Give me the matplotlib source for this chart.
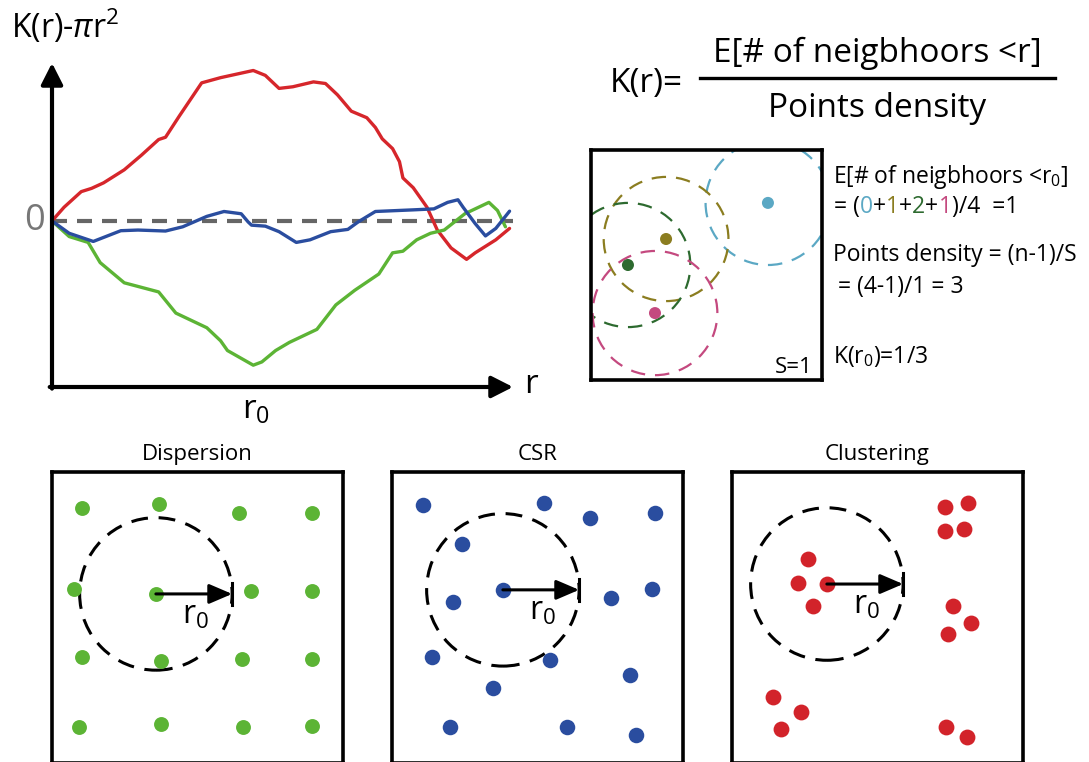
import matplotlib.pyplot as plt
from matplotlib.patches import Circle
from matplotlib.lines import Line2D

plt.rcParams['font.family'] = ['Open Sans', 'DejaVu Sans']
plt.rcParams['mathtext.fontset'] = 'custom'
plt.rcParams['mathtext.rm'] = 'Open Sans'
plt.rcParams['mathtext.it'] = 'Open Sans:italic'

W, H = 1089, 762

# K(r) - pi r^2 curves (arbitrary units)
r_red = [0, 0.35, 0.85, 1.15, 1.5, 2.1, 2.6, 3.1, 3.3, 3.7, 4.35, 4.9, 5.85, 6.2, 6.6, 7.0, 7.6, 7.95,
         8.3, 8.7, 9.15, 9.4, 9.6, 9.9, 10.1, 10.2, 10.5, 10.9, 11.2, 11.6, 12.05, 12.3, 12.6, 12.9, 13.3]
k_red = [0, 0.42, 0.9, 1.0, 1.17, 1.57, 2.02, 2.5, 2.57, 3.22, 4.24, 4.4, 4.62, 4.47, 4.07, 4.12, 4.27, 4.22,
         3.87, 3.37, 3.17, 2.87, 2.52, 2.22, 1.82, 1.32, 1.02, 0.42, -0.28, -0.83, -1.18, -0.98, -0.78, -0.58, -0.23]
r_green = [0, 0.5, 1.05, 1.4, 2.1, 3.1, 3.6, 4.5, 4.9, 5.1, 5.85, 6.1, 6.5, 6.9, 7.7, 8.25, 8.8, 9.5,
           9.9, 10.2, 10.6, 11.0, 11.4, 12.0, 12.7, 12.95, 13.18]
k_green = [0, -0.48, -0.66, -1.28, -1.9, -2.18, -2.83, -3.28, -3.68, -3.98, -4.43, -4.33, -3.98, -3.73,
           -3.33, -2.58, -2.13, -1.63, -0.98, -0.93, -0.58, -0.38, -0.28, 0.22, 0.57, 0.32, -0.18]
r_blue = [0, 0.5, 1.2, 2.0, 2.5, 3.3, 3.8, 4.5, 5.0, 5.5, 5.7, 5.8, 6.2, 6.6, 7.1, 7.5, 8.1, 8.6, 8.9,
          9.4, 10.5, 11.1, 11.5, 11.8, 11.95, 12.3, 12.6, 12.9, 13.3]
k_blue = [0, -0.38, -0.63, -0.3, -0.28, -0.31, -0.18, 0.14, 0.29, 0.22, -0.03, -0.13, -0.16, -0.33, -0.66,
          -0.58, -0.33, -0.26, -0.03, 0.29, 0.34, 0.37, 0.57, 0.65, 0.42, -0.08, -0.46, -0.23, 0.3]

# S=1 example: 4 points, neighbourhood radius r0
ex_x = [0.766, 0.325, 0.160, 0.277]
ex_y = [0.770, 0.613, 0.500, 0.291]
ex_colors = ['#5ba8c4', '#8b7d20', '#2d6a2f', '#c4497f']
ex_r0 = 0.27

# point patterns
disp_x = [0.103, 0.368, 0.643, 0.893, 0.076, 0.357, 0.684, 0.893,
          0.103, 0.375, 0.653, 0.893, 0.093, 0.375, 0.656, 0.893]
disp_y = [0.876, 0.890, 0.859, 0.859, 0.598, 0.581, 0.591, 0.591,
          0.364, 0.351, 0.357, 0.357, 0.124, 0.134, 0.124, 0.127]
csr_x = [0.107, 0.522, 0.680, 0.904, 0.241, 0.381, 0.210, 0.753,
         0.893, 0.137, 0.543, 0.818, 0.347, 0.199, 0.601, 0.838]
csr_y = [0.887, 0.893, 0.842, 0.859, 0.753, 0.595, 0.553, 0.567,
         0.598, 0.364, 0.354, 0.302, 0.258, 0.124, 0.124, 0.096]
clu_x = [0.732, 0.811, 0.732, 0.797, 0.261, 0.227, 0.326, 0.278,
         0.759, 0.821, 0.742, 0.141, 0.237, 0.168, 0.735, 0.808]
clu_y = [0.880, 0.893, 0.797, 0.804, 0.701, 0.619, 0.615, 0.540,
         0.540, 0.481, 0.443, 0.227, 0.175, 0.117, 0.124, 0.089]
panel_r0 = 0.262

RED, GREEN, BLUE = '#d6262b', '#5cb435', '#2a4d9f'

fig = plt.figure(figsize=(W / 100, H / 100), dpi=100)


def px_box(left, top, width, height):
    return [left / W, 1 - (top + height) / H, width / W, height / H]


def ftext(x, y, s, **kw):
    return fig.text(x / W, 1 - y / H, s, **kw)


def colored_text(x, y, parts, size):
    renderer = fig.canvas.get_renderer()
    for s, c in parts:
        t = ftext(x, y, s, color=c, fontsize=size, va='baseline')
        x += t.get_window_extent(renderer).width


# --- main K(r) plot ---
ax = fig.add_axes(px_box(52, 63, 461, 324))
ax.set_xlim(0, 13.4)
ax.set_ylim(-5.1, 4.85)
ax.axis('off')
ax.axhline(0, color='#666666', lw=3, ls=(0, (3.6, 2.4)))
for rr, kk, col in [(r_red, k_red, RED), (r_green, k_green, GREEN), (r_blue, k_blue, BLUE)]:
    ax.plot(rr, kk, color=col, lw=2.4, solid_joinstyle='round', solid_capstyle='round')
arrow = dict(arrowstyle='-|>,head_length=0.65,head_width=0.33', lw=3, color='k',
             shrinkA=0, shrinkB=0, mutation_scale=20)
ax.annotate('', xy=(0, 1), xytext=(0, -0.005), xycoords='axes fraction', arrowprops=arrow)
ax.annotate('', xy=(1, 0), xytext=(-0.005, 0), xycoords='axes fraction', arrowprops=arrow)

ftext(11, 38, r'K(r)-$\mathit{\pi}\mathrm{r}^\mathrm{2}$', fontsize=23, va='baseline')
ftext(35, 221, '0', fontsize=26, color='#777777', ha='center', va='center')
ftext(524, 393, 'r', fontsize=24, va='baseline')
ftext(256, 394, r'$\mathrm{r_0}$', fontsize=24, ha='center', va='top')

# --- formula ---
ftext(610, 92, 'K(r)=', fontsize=24, va='baseline')
fig.add_artist(Line2D([700 / W, 1055 / W], [1 - 78 / H, 1 - 78 / H], color='k', lw=2.4))
ftext(877, 62, 'E[# of neigbhoors <r]', fontsize=24, ha='center', va='baseline')
ftext(877, 117, 'Points density', fontsize=24, ha='center', va='baseline')

# --- S=1 example ---
ax2 = fig.add_axes(px_box(591, 150, 231, 230))
ax2.set_xlim(0, 1)
ax2.set_ylim(0, 1)
ax2.set_xticks([])
ax2.set_yticks([])
for sp in ax2.spines.values():
    sp.set_linewidth(2.6)
for x, y, c in zip(ex_x, ex_y, ex_colors):
    ax2.add_patch(Circle((x, y), ex_r0, fill=False, ec=c, lw=1.6, ls=(0, (6.5, 4.5))))
ax2.scatter(ex_x, ex_y, s=75, c=ex_colors, zorder=3, linewidths=0)
ax2.text(0.957, 0.03, 'S=1', fontsize=16, ha='right', va='baseline', transform=ax2.transAxes)

FS = 16.5
colored_text(833, 183, [(r'E[# of neigbhoors <$\mathrm{r_0}$]', 'k')], FS)
colored_text(834, 213, [('= (', 'k'), ('0', ex_colors[0]), ('+', 'k'), ('1', ex_colors[1]),
                        ('+', 'k'), ('2', ex_colors[2]), ('+', 'k'), ('1', ex_colors[3]),
                        (')/4  =1', 'k')], FS)
ftext(833, 261, 'Points density = (n-1)/S', fontsize=FS, va='baseline')
ftext(838, 293, '= (4-1)/1 = 3', fontsize=FS, va='baseline')
ftext(833, 363, r'K($\mathrm{r_0}$)=1/3', fontsize=FS, va='baseline')

# --- point pattern panels ---
panels = [
    ('Dispersion', 52, disp_x, disp_y, GREEN, 5, 115),
    ('CSR', 392, csr_x, csr_y, BLUE, 5, 125),
    ('Clustering', 732, clu_x, clu_y, '#d2232a', 6, 130),
]
for title, left, xs, ys, color, ci, size in panels:
    a = fig.add_axes(px_box(left, 472, 291, 291))
    a.set_xlim(0, 1)
    a.set_ylim(0, 1)
    a.set_xticks([])
    a.set_yticks([])
    for sp in a.spines.values():
        sp.set_linewidth(2.6)
    a.scatter(xs, ys, s=size, color=color, linewidths=0, zorder=3)
    cx, cy = xs[ci], ys[ci]
    a.add_patch(Circle((cx, cy), panel_r0, fill=False, ec='k', lw=2.2, ls=(0, (5.5, 3.5)), zorder=2))
    a.annotate('', xy=(cx + panel_r0, cy), xytext=(cx, cy),
               arrowprops=dict(arrowstyle='-|>,head_length=0.7,head_width=0.3', lw=2.2, color='k',
                               shrinkA=0, shrinkB=0, mutation_scale=20), zorder=4)
    a.plot([cx + panel_r0] * 2, [cy - 0.038, cy + 0.038], color='k', lw=2.2, zorder=4)
    a.text(cx + 0.09, cy - 0.015, r'$\mathrm{r_0}$', fontsize=23, ha='left', va='top')
    a.text(0.5, 1 + 17 / 291, title, fontsize=16, ha='center', va='center', transform=a.transAxes)

fig.savefig('out.png', dpi=100)
